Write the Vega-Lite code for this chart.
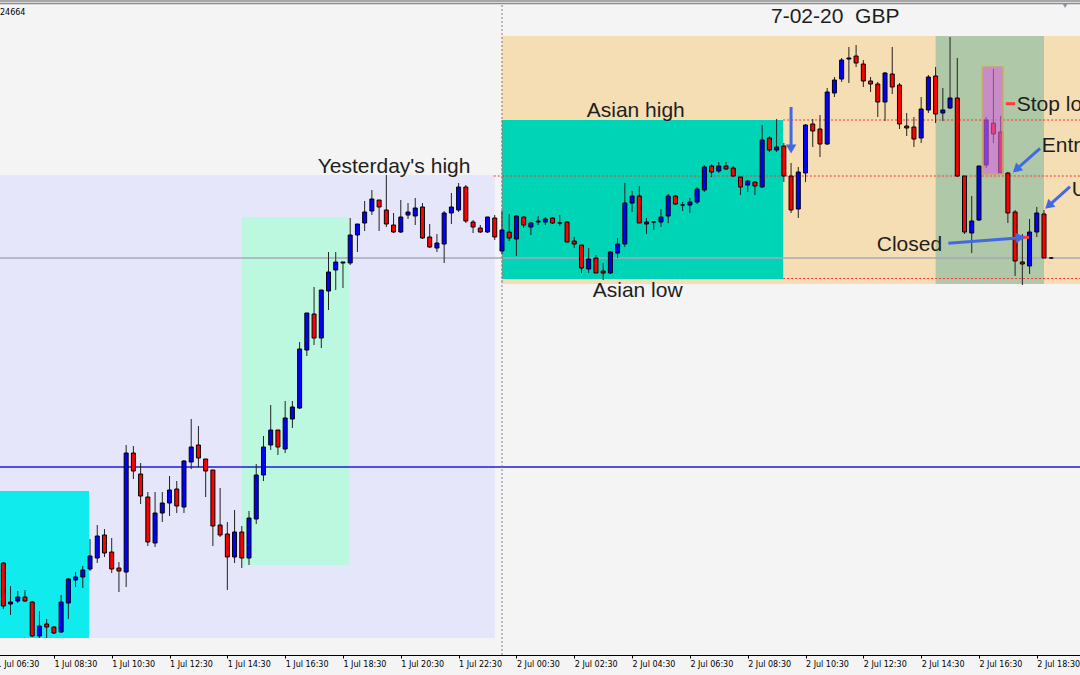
{
"$schema": "https://vega.github.io/schema/vega-lite/v6.json",
"width": 1080, "height": 650,
"autosize": {"type": "none"},
"padding": {"left": 0, "top": 5, "right": 0, "bottom": 20},
"background": "#F4F4F4",
"config": {"view": {"stroke": null}, "axis": {"grid": false}},
"datasets": {
"zones": [
{"zone": "Yesterday range", "start": "2020-07-01T06:00:00", "end": "2020-07-01T23:45:00", "top": 1.25650, "bottom": 1.24724},
{"zone": "Early session", "start": "2020-07-01T06:00:00", "end": "2020-07-01T09:43:00", "top": 1.25018, "bottom": 1.24724},
{"zone": "London move", "start": "2020-07-01T15:00:00", "end": "2020-07-01T18:43:00", "top": 1.25566, "bottom": 1.24870},
{"zone": "Today", "start": "2020-07-02T00:00:00", "end": "2020-07-02T21:00:00", "top": 1.25928, "bottom": 1.25432},
{"zone": "Asian range", "start": "2020-07-02T00:00:00", "end": "2020-07-02T09:43:30", "top": 1.25760, "bottom": 1.25442},
{"zone": "Trade window", "start": "2020-07-02T15:00:00", "end": "2020-07-02T18:45:00", "top": 1.25928, "bottom": 1.25432}
],
"candles": [
{"time":"2020-07-01T06:45:00","open":1.24874,"high":1.24876,"low":1.24782,"close":1.24788},
{"time":"2020-07-01T07:00:00","open":1.24792,"high":1.24828,"low":1.24770,"close":1.24796},
{"time":"2020-07-01T07:15:00","open":1.24798,"high":1.24818,"low":1.24794,"close":1.24806},
{"time":"2020-07-01T07:30:00","open":1.24806,"high":1.24820,"low":1.24796,"close":1.24798},
{"time":"2020-07-01T07:45:00","open":1.24796,"high":1.24798,"low":1.24726,"close":1.24728},
{"time":"2020-07-01T08:00:00","open":1.24728,"high":1.24778,"low":1.24724,"close":1.24748},
{"time":"2020-07-01T08:15:00","open":1.24752,"high":1.24762,"low":1.24724,"close":1.24746},
{"time":"2020-07-01T08:30:00","open":1.24746,"high":1.24748,"low":1.24732,"close":1.24734},
{"time":"2020-07-01T08:45:00","open":1.24736,"high":1.24810,"low":1.24734,"close":1.24796},
{"time":"2020-07-01T09:00:00","open":1.24794,"high":1.24844,"low":1.24762,"close":1.24842},
{"time":"2020-07-01T09:15:00","open":1.24840,"high":1.24856,"low":1.24826,"close":1.24846},
{"time":"2020-07-01T09:30:00","open":1.24846,"high":1.24868,"low":1.24824,"close":1.24860},
{"time":"2020-07-01T09:45:00","open":1.24862,"high":1.24922,"low":1.24858,"close":1.24888},
{"time":"2020-07-01T10:00:00","open":1.24884,"high":1.24950,"low":1.24874,"close":1.24928},
{"time":"2020-07-01T10:15:00","open":1.24930,"high":1.24942,"low":1.24886,"close":1.24894},
{"time":"2020-07-01T10:30:00","open":1.24896,"high":1.24924,"low":1.24854,"close":1.24862},
{"time":"2020-07-01T10:45:00","open":1.24864,"high":1.24876,"low":1.24816,"close":1.24858},
{"time":"2020-07-01T11:00:00","open":1.24856,"high":1.25110,"low":1.24826,"close":1.25094},
{"time":"2020-07-01T11:15:00","open":1.25094,"high":1.25108,"low":1.25042,"close":1.25058},
{"time":"2020-07-01T11:30:00","open":1.25052,"high":1.25074,"low":1.24992,"close":1.25008},
{"time":"2020-07-01T11:45:00","open":1.25006,"high":1.25016,"low":1.24908,"close":1.24916},
{"time":"2020-07-01T12:00:00","open":1.24914,"high":1.25016,"low":1.24906,"close":1.24974},
{"time":"2020-07-01T12:15:00","open":1.24974,"high":1.25016,"low":1.24956,"close":1.24994},
{"time":"2020-07-01T12:30:00","open":1.24994,"high":1.25048,"low":1.24968,"close":1.25020},
{"time":"2020-07-01T12:45:00","open":1.25022,"high":1.25038,"low":1.24974,"close":1.24988},
{"time":"2020-07-01T13:00:00","open":1.24986,"high":1.25080,"low":1.24974,"close":1.25078},
{"time":"2020-07-01T13:15:00","open":1.25076,"high":1.25162,"low":1.25062,"close":1.25106},
{"time":"2020-07-01T13:30:00","open":1.25110,"high":1.25148,"low":1.25066,"close":1.25084},
{"time":"2020-07-01T13:45:00","open":1.25082,"high":1.25082,"low":1.25006,"close":1.25058},
{"time":"2020-07-01T14:00:00","open":1.25060,"high":1.25060,"low":1.24908,"close":1.24948},
{"time":"2020-07-01T14:15:00","open":1.24950,"high":1.25024,"low":1.24926,"close":1.24930},
{"time":"2020-07-01T14:30:00","open":1.24932,"high":1.24956,"low":1.24820,"close":1.24886},
{"time":"2020-07-01T14:45:00","open":1.24886,"high":1.24980,"low":1.24874,"close":1.24936},
{"time":"2020-07-01T15:00:00","open":1.24936,"high":1.24948,"low":1.24864,"close":1.24884},
{"time":"2020-07-01T15:15:00","open":1.24884,"high":1.24978,"low":1.24870,"close":1.24964},
{"time":"2020-07-01T15:30:00","open":1.24962,"high":1.25072,"low":1.24952,"close":1.25050},
{"time":"2020-07-01T15:45:00","open":1.25050,"high":1.25128,"low":1.25038,"close":1.25106},
{"time":"2020-07-01T16:00:00","open":1.25110,"high":1.25190,"low":1.25100,"close":1.25140},
{"time":"2020-07-01T16:15:00","open":1.25140,"high":1.25140,"low":1.25090,"close":1.25106},
{"time":"2020-07-01T16:30:00","open":1.25102,"high":1.25198,"low":1.25094,"close":1.25164},
{"time":"2020-07-01T16:45:00","open":1.25162,"high":1.25198,"low":1.25144,"close":1.25186},
{"time":"2020-07-01T17:00:00","open":1.25184,"high":1.25316,"low":1.25182,"close":1.25302},
{"time":"2020-07-01T17:15:00","open":1.25300,"high":1.25374,"low":1.25288,"close":1.25374},
{"time":"2020-07-01T17:30:00","open":1.25372,"high":1.25426,"low":1.25310,"close":1.25324},
{"time":"2020-07-01T17:45:00","open":1.25324,"high":1.25420,"low":1.25304,"close":1.25420},
{"time":"2020-07-01T18:00:00","open":1.25418,"high":1.25496,"low":1.25380,"close":1.25456},
{"time":"2020-07-01T18:15:00","open":1.25460,"high":1.25496,"low":1.25420,"close":1.25476},
{"time":"2020-07-01T18:30:00","open":1.25474,"high":1.25476,"low":1.25424,"close":1.25476},
{"time":"2020-07-01T18:45:00","open":1.25474,"high":1.25564,"low":1.25470,"close":1.25530},
{"time":"2020-07-01T19:00:00","open":1.25530,"high":1.25552,"low":1.25496,"close":1.25552},
{"time":"2020-07-01T19:15:00","open":1.25554,"high":1.25598,"low":1.25538,"close":1.25576},
{"time":"2020-07-01T19:30:00","open":1.25578,"high":1.25620,"low":1.25570,"close":1.25602},
{"time":"2020-07-01T19:45:00","open":1.25600,"high":1.25600,"low":1.25538,"close":1.25586},
{"time":"2020-07-01T20:00:00","open":1.25580,"high":1.25650,"low":1.25546,"close":1.25552},
{"time":"2020-07-01T20:15:00","open":1.25550,"high":1.25574,"low":1.25534,"close":1.25536},
{"time":"2020-07-01T20:30:00","open":1.25536,"high":1.25600,"low":1.25534,"close":1.25566},
{"time":"2020-07-01T20:45:00","open":1.25570,"high":1.25594,"low":1.25562,"close":1.25576},
{"time":"2020-07-01T21:00:00","open":1.25568,"high":1.25604,"low":1.25550,"close":1.25584},
{"time":"2020-07-01T21:15:00","open":1.25586,"high":1.25594,"low":1.25522,"close":1.25524},
{"time":"2020-07-01T21:30:00","open":1.25526,"high":1.25552,"low":1.25504,"close":1.25506},
{"time":"2020-07-01T21:45:00","open":1.25504,"high":1.25532,"low":1.25496,"close":1.25514},
{"time":"2020-07-01T22:00:00","open":1.25512,"high":1.25578,"low":1.25474,"close":1.25574},
{"time":"2020-07-01T22:15:00","open":1.25574,"high":1.25614,"low":1.25552,"close":1.25586},
{"time":"2020-07-01T22:30:00","open":1.25580,"high":1.25634,"low":1.25576,"close":1.25626},
{"time":"2020-07-01T22:45:00","open":1.25626,"high":1.25630,"low":1.25554,"close":1.25558},
{"time":"2020-07-01T23:00:00","open":1.25556,"high":1.25560,"low":1.25534,"close":1.25546},
{"time":"2020-07-01T23:15:00","open":1.25544,"high":1.25550,"low":1.25534,"close":1.25536},
{"time":"2020-07-01T23:30:00","open":1.25536,"high":1.25566,"low":1.25534,"close":1.25566},
{"time":"2020-07-01T23:45:00","open":1.25564,"high":1.25570,"low":1.25520,"close":1.25526},
{"time":"2020-07-02T00:00:00","open":1.25498,"high":1.25578,"low":1.25492,"close":1.25540},
{"time":"2020-07-02T00:15:00","open":1.25536,"high":1.25572,"low":1.25518,"close":1.25524},
{"time":"2020-07-02T00:30:00","open":1.25522,"high":1.25570,"low":1.25488,"close":1.25568},
{"time":"2020-07-02T00:45:00","open":1.25566,"high":1.25568,"low":1.25544,"close":1.25550},
{"time":"2020-07-02T01:00:00","open":1.25546,"high":1.25556,"low":1.25530,"close":1.25554},
{"time":"2020-07-02T01:15:00","open":1.25556,"high":1.25568,"low":1.25550,"close":1.25558},
{"time":"2020-07-02T01:30:00","open":1.25556,"high":1.25566,"low":1.25550,"close":1.25562},
{"time":"2020-07-02T01:45:00","open":1.25564,"high":1.25566,"low":1.25552,"close":1.25554},
{"time":"2020-07-02T02:00:00","open":1.25554,"high":1.25570,"low":1.25548,"close":1.25554},
{"time":"2020-07-02T02:15:00","open":1.25556,"high":1.25558,"low":1.25516,"close":1.25516},
{"time":"2020-07-02T02:30:00","open":1.25518,"high":1.25526,"low":1.25504,"close":1.25512},
{"time":"2020-07-02T02:45:00","open":1.25510,"high":1.25510,"low":1.25454,"close":1.25464},
{"time":"2020-07-02T03:00:00","open":1.25462,"high":1.25504,"low":1.25454,"close":1.25482},
{"time":"2020-07-02T03:15:00","open":1.25484,"high":1.25490,"low":1.25454,"close":1.25454},
{"time":"2020-07-02T03:30:00","open":1.25458,"high":1.25474,"low":1.25440,"close":1.25454},
{"time":"2020-07-02T03:45:00","open":1.25454,"high":1.25498,"low":1.25452,"close":1.25496},
{"time":"2020-07-02T04:00:00","open":1.25494,"high":1.25524,"low":1.25484,"close":1.25512},
{"time":"2020-07-02T04:15:00","open":1.25512,"high":1.25634,"low":1.25506,"close":1.25594},
{"time":"2020-07-02T04:30:00","open":1.25594,"high":1.25618,"low":1.25576,"close":1.25608},
{"time":"2020-07-02T04:45:00","open":1.25608,"high":1.25628,"low":1.25554,"close":1.25554},
{"time":"2020-07-02T05:00:00","open":1.25552,"high":1.25564,"low":1.25532,"close":1.25556},
{"time":"2020-07-02T05:15:00","open":1.25556,"high":1.25556,"low":1.25540,"close":1.25556},
{"time":"2020-07-02T05:30:00","open":1.25556,"high":1.25582,"low":1.25546,"close":1.25566},
{"time":"2020-07-02T05:45:00","open":1.25568,"high":1.25612,"low":1.25554,"close":1.25608},
{"time":"2020-07-02T06:00:00","open":1.25608,"high":1.25610,"low":1.25590,"close":1.25592},
{"time":"2020-07-02T06:15:00","open":1.25590,"high":1.25596,"low":1.25578,"close":1.25590},
{"time":"2020-07-02T06:30:00","open":1.25590,"high":1.25604,"low":1.25574,"close":1.25596},
{"time":"2020-07-02T06:45:00","open":1.25596,"high":1.25626,"low":1.25592,"close":1.25622},
{"time":"2020-07-02T07:00:00","open":1.25620,"high":1.25670,"low":1.25616,"close":1.25666},
{"time":"2020-07-02T07:15:00","open":1.25668,"high":1.25672,"low":1.25646,"close":1.25656},
{"time":"2020-07-02T07:30:00","open":1.25658,"high":1.25676,"low":1.25654,"close":1.25668},
{"time":"2020-07-02T07:45:00","open":1.25668,"high":1.25676,"low":1.25660,"close":1.25662},
{"time":"2020-07-02T08:00:00","open":1.25664,"high":1.25668,"low":1.25646,"close":1.25648},
{"time":"2020-07-02T08:15:00","open":1.25646,"high":1.25646,"low":1.25610,"close":1.25626},
{"time":"2020-07-02T08:30:00","open":1.25630,"high":1.25640,"low":1.25616,"close":1.25638},
{"time":"2020-07-02T08:45:00","open":1.25636,"high":1.25638,"low":1.25610,"close":1.25628},
{"time":"2020-07-02T09:00:00","open":1.25626,"high":1.25750,"low":1.25624,"close":1.25720},
{"time":"2020-07-02T09:15:00","open":1.25724,"high":1.25728,"low":1.25696,"close":1.25700},
{"time":"2020-07-02T09:30:00","open":1.25700,"high":1.25762,"low":1.25696,"close":1.25706},
{"time":"2020-07-02T09:45:00","open":1.25708,"high":1.25714,"low":1.25636,"close":1.25648},
{"time":"2020-07-02T10:00:00","open":1.25648,"high":1.25674,"low":1.25574,"close":1.25580},
{"time":"2020-07-02T10:15:00","open":1.25582,"high":1.25666,"low":1.25564,"close":1.25656},
{"time":"2020-07-02T10:30:00","open":1.25654,"high":1.25752,"low":1.25636,"close":1.25750},
{"time":"2020-07-02T10:45:00","open":1.25752,"high":1.25762,"low":1.25706,"close":1.25738},
{"time":"2020-07-02T11:00:00","open":1.25742,"high":1.25770,"low":1.25686,"close":1.25712},
{"time":"2020-07-02T11:15:00","open":1.25712,"high":1.25824,"low":1.25710,"close":1.25816},
{"time":"2020-07-02T11:30:00","open":1.25814,"high":1.25846,"low":1.25806,"close":1.25840},
{"time":"2020-07-02T11:45:00","open":1.25842,"high":1.25884,"low":1.25836,"close":1.25880},
{"time":"2020-07-02T12:00:00","open":1.25882,"high":1.25906,"low":1.25834,"close":1.25884},
{"time":"2020-07-02T12:15:00","open":1.25888,"high":1.25910,"low":1.25866,"close":1.25874},
{"time":"2020-07-02T12:30:00","open":1.25872,"high":1.25880,"low":1.25826,"close":1.25838},
{"time":"2020-07-02T12:45:00","open":1.25838,"high":1.25846,"low":1.25816,"close":1.25832},
{"time":"2020-07-02T13:00:00","open":1.25832,"high":1.25836,"low":1.25766,"close":1.25796},
{"time":"2020-07-02T13:15:00","open":1.25796,"high":1.25856,"low":1.25758,"close":1.25854},
{"time":"2020-07-02T13:30:00","open":1.25852,"high":1.25906,"low":1.25812,"close":1.25826},
{"time":"2020-07-02T13:45:00","open":1.25830,"high":1.25834,"low":1.25742,"close":1.25752},
{"time":"2020-07-02T14:00:00","open":1.25748,"high":1.25774,"low":1.25728,"close":1.25744},
{"time":"2020-07-02T14:15:00","open":1.25746,"high":1.25766,"low":1.25706,"close":1.25722},
{"time":"2020-07-02T14:30:00","open":1.25724,"high":1.25806,"low":1.25714,"close":1.25782},
{"time":"2020-07-02T14:45:00","open":1.25780,"high":1.25850,"low":1.25774,"close":1.25846},
{"time":"2020-07-02T15:00:00","open":1.25848,"high":1.25866,"low":1.25754,"close":1.25772},
{"time":"2020-07-02T15:15:00","open":1.25774,"high":1.25824,"low":1.25758,"close":1.25780},
{"time":"2020-07-02T15:30:00","open":1.25784,"high":1.25926,"low":1.25782,"close":1.25804},
{"time":"2020-07-02T15:45:00","open":1.25804,"high":1.25884,"low":1.25646,"close":1.25648},
{"time":"2020-07-02T16:00:00","open":1.25648,"high":1.25648,"low":1.25532,"close":1.25536},
{"time":"2020-07-02T16:15:00","open":1.25534,"high":1.25608,"low":1.25494,"close":1.25558},
{"time":"2020-07-02T16:30:00","open":1.25560,"high":1.25668,"low":1.25558,"close":1.25668},
{"time":"2020-07-02T16:45:00","open":1.25670,"high":1.25766,"low":1.25664,"close":1.25760},
{"time":"2020-07-02T17:00:00","open":1.25754,"high":1.25862,"low":1.25714,"close":1.25732},
{"time":"2020-07-02T17:15:00","open":1.25736,"high":1.25768,"low":1.25652,"close":1.25654},
{"time":"2020-07-02T17:30:00","open":1.25654,"high":1.25656,"low":1.25554,"close":1.25574},
{"time":"2020-07-02T17:45:00","open":1.25576,"high":1.25580,"low":1.25448,"close":1.25478},
{"time":"2020-07-02T18:00:00","open":1.25476,"high":1.25532,"low":1.25430,"close":1.25472},
{"time":"2020-07-02T18:15:00","open":1.25468,"high":1.25562,"low":1.25452,"close":1.25536},
{"time":"2020-07-02T18:30:00","open":1.25536,"high":1.25586,"low":1.25526,"close":1.25574},
{"time":"2020-07-02T18:45:00","open":1.25572,"high":1.25580,"low":1.25484,"close":1.25484},
{"time":"2020-07-02T19:00:00","open":1.25484,"high":1.25486,"low":1.25482,"close":1.25484}
]
},
"layer": [
{
"data": {"name": "zones"},
"mark": {"type": "rect", "clip": true},
"encoding": {
"x": {"field": "start", "type": "temporal",
"scale": {"padding": 0, "range": [-3.93, 1080.15], "domain": [{"year": 2020, "month": 7, "date": 1, "hours": 6, "minutes": 30}, {"year": 2020, "month": 7, "date": 2, "hours": 20, "minutes": 0}]},
"axis": {"title": null, "grid": false, "format": "%-d %b %H:%M",
"values": [
{"year": 2020, "month": 7, "date": 1, "hours": 6, "minutes": 30},
{"year": 2020, "month": 7, "date": 1, "hours": 8, "minutes": 30},
{"year": 2020, "month": 7, "date": 1, "hours": 10, "minutes": 30},
{"year": 2020, "month": 7, "date": 1, "hours": 12, "minutes": 30},
{"year": 2020, "month": 7, "date": 1, "hours": 14, "minutes": 30},
{"year": 2020, "month": 7, "date": 1, "hours": 16, "minutes": 30},
{"year": 2020, "month": 7, "date": 1, "hours": 18, "minutes": 30},
{"year": 2020, "month": 7, "date": 1, "hours": 20, "minutes": 30},
{"year": 2020, "month": 7, "date": 1, "hours": 22, "minutes": 30},
{"year": 2020, "month": 7, "date": 2, "hours": 0, "minutes": 30},
{"year": 2020, "month": 7, "date": 2, "hours": 2, "minutes": 30},
{"year": 2020, "month": 7, "date": 2, "hours": 4, "minutes": 30},
{"year": 2020, "month": 7, "date": 2, "hours": 6, "minutes": 30},
{"year": 2020, "month": 7, "date": 2, "hours": 8, "minutes": 30},
{"year": 2020, "month": 7, "date": 2, "hours": 10, "minutes": 30},
{"year": 2020, "month": 7, "date": 2, "hours": 12, "minutes": 30},
{"year": 2020, "month": 7, "date": 2, "hours": 14, "minutes": 30},
{"year": 2020, "month": 7, "date": 2, "hours": 16, "minutes": 30},
{"year": 2020, "month": 7, "date": 2, "hours": 18, "minutes": 30}],
"labelAlign": "left", "labelBaseline": "top", "labelFont": "DejaVu Sans", "labelFontSize": 8,
"labelColor": "#000000", "labelPadding": 2, "tickSize": 3, "tickColor": "#000000",
"domainColor": "#000000", "domainWidth": 1, "labelOverlap": false, "labelFlush": false, "labelBound": false}},
"x2": {"field": "end"},
"y": {"field": "top", "type": "quantitative", "scale": {"domain": [1.2469, 1.2599], "nice": false, "zero": false}, "axis": null},
"y2": {"field": "bottom"},
"color": {"field": "zone", "type": "nominal", "legend": null,
"scale": {"domain": ["Yesterday range", "Early session", "London move", "Today", "Asian range", "Trade window", "Gray level", "Blue level"],
"range": ["#E6E6FA", "#10ECEE", "#BCF8DF", "#F5DEB3", "#00D4B7", "#AFC8A8", "#A9A9B6", "#1E1ED2"]}}
}
},
{
"data": {"values": [{"edge": "top a", "price": 1.25998}, {"edge": "top b", "price": 1.25993}]},
"mark": {"type": "rule", "clip": false, "color": "#8C8C8C", "strokeWidth": 1.5},
"encoding": {"y": {"field": "price", "type": "quantitative"}}
},
{
"data": {"values": [{"zone": "Gray level", "price": 1.25484}, {"zone": "Blue level", "price": 1.25066}]},
"mark": {"type": "rule", "strokeWidth": 1.5},
"encoding": {
"y": {"field": "price", "type": "quantitative"},
"color": {"field": "zone", "type": "nominal", "legend": null}
}
},
{
"data": {"values": [{"time": "2020-07-02T00:00:00"}]},
"mark": {"type": "rule", "color": "#808080", "strokeDash": [2, 2], "strokeWidth": 1},
"encoding": {"x": {"field": "time", "type": "temporal"}}
},
{
"data": {"values": [{"time": "2020-07-02T00:00:00", "top": 1.2576, "bottom": 1.25432}]},
"mark": {"type": "rule", "color": "#F06060", "strokeDash": [2, 2], "strokeWidth": 1},
"encoding": {"x": {"field": "time", "type": "temporal"}, "y": {"field": "top", "type": "quantitative"}, "y2": {"field": "bottom"}}
},
{
"data": {"values": [
{"start": "2020-07-02T09:43:30", "end": "2020-07-02T21:00:00", "price": 1.25760},
{"start": "2020-07-01T23:43:00", "end": "2020-07-02T21:00:00", "price": 1.25648},
{"start": "2020-07-02T09:43:30", "end": "2020-07-02T21:00:00", "price": 1.25443}]},
"mark": {"type": "rule", "clip": true, "color": "#FF3030", "strokeDash": [2, 2], "strokeWidth": 1.2},
"encoding": {"x": {"field": "start", "type": "temporal"}, "x2": {"field": "end"}, "y": {"field": "price", "type": "quantitative"}}
},
{
"data": {"name": "candles"},
"mark": {"type": "rule", "color": "#222222", "strokeWidth": 1},
"encoding": {"x": {"field": "time", "type": "temporal"}, "y": {"field": "low", "type": "quantitative"}, "y2": {"field": "high"}}
},
{
"data": {"name": "candles"},
"mark": {"type": "bar", "size": 4, "stroke": "#000000", "strokeWidth": 1},
"encoding": {
"x": {"field": "time", "type": "temporal"},
"y": {"field": "open", "type": "quantitative"},
"y2": {"field": "close"},
"fill": {"condition": {"test": "datum.close >= datum.open", "value": "#0000FF"}, "value": "#FF0000"}
}
},
{
"data": {"values": [{"start": "2020-07-02T16:37:30", "end": "2020-07-02T17:19:30", "top": 1.25866, "bottom": 1.25652}]},
"mark": {"type": "rect", "fill": "#D964DD", "fillOpacity": 0.6, "stroke": "#C8A46E", "strokeWidth": 1.5, "strokeOpacity": 1},
"encoding": {"x": {"field": "start", "type": "temporal"}, "x2": {"field": "end"}, "y": {"field": "top", "type": "quantitative"}, "y2": {"field": "bottom"}}
},
{
"data": {"values": [
{"marker": "Stop loss", "start": "2020-07-02T17:25:48", "end": "2020-07-02T17:44:54", "price": 1.257926},
{"marker": "Close", "start": "2020-07-02T18:01:30", "end": "2020-07-02T18:13:54", "price": 1.255254}]},
"mark": {"type": "rule", "color": "#FF3B3B", "strokeWidth": 3},
"encoding": {"x": {"field": "start", "type": "temporal"}, "x2": {"field": "end"}, "y": {"field": "price", "type": "quantitative"}}
},
{
"data": {"values": [
{"arrow": "Signal", "start": "2020-07-02T10:00:00", "startPrice": 1.25786, "end": "2020-07-02T10:00:00", "endPrice": 1.25702},
{"arrow": "Entry", "start": "2020-07-02T18:36:48", "startPrice": 1.257034, "end": "2020-07-02T17:47:24", "endPrice": 1.25661},
{"arrow": "U", "start": "2020-07-02T19:39:00", "startPrice": 1.256266, "end": "2020-07-02T18:54:24", "endPrice": 1.255884},
{"arrow": "Closed", "start": "2020-07-02T15:26:24", "startPrice": 1.255134, "end": "2020-07-02T17:55:54", "endPrice": 1.255246}]},
"mark": {"type": "rule", "color": "#4169E1", "strokeWidth": 3},
"encoding": {"x": {"field": "start", "type": "temporal"}, "x2": {"field": "end"}, "y": {"field": "startPrice", "type": "quantitative"}, "y2": {"field": "endPrice"}}
},
{
"data": {"values": [{"time": "2020-07-02T10:00:00", "price": 1.25702}]},
"mark": {"type": "point", "shape": "triangle-up", "filled": true, "color": "#4169E1", "opacity": 1, "size": 110, "angle": 180},
"encoding": {"x": {"field": "time", "type": "temporal"}, "y": {"field": "price", "type": "quantitative"}}
},
{
"data": {"values": [{"time": "2020-07-02T17:47:24", "price": 1.25661}, {"time": "2020-07-02T18:54:24", "price": 1.255884}]},
"mark": {"type": "point", "shape": "triangle-up", "filled": true, "color": "#4169E1", "opacity": 1, "size": 110, "angle": 228},
"encoding": {"x": {"field": "time", "type": "temporal"}, "y": {"field": "price", "type": "quantitative"}}
},
{
"data": {"values": [{"time": "2020-07-02T17:55:54", "price": 1.255246}]},
"mark": {"type": "point", "shape": "triangle-up", "filled": true, "color": "#4169E1", "opacity": 1, "size": 110, "angle": 85.5},
"encoding": {"x": {"field": "time", "type": "temporal"}, "y": {"field": "price", "type": "quantitative"}}
},
{
"data": {"values": [{"time": "2020-07-02T19:28:42", "price": 1.259886}]},
"mark": {"type": "point", "shape": "triangle-down", "filled": true, "color": "#8496A8", "opacity": 1, "size": 28, "clip": false},
"encoding": {"x": {"field": "time", "type": "temporal"}, "y": {"field": "price", "type": "quantitative"}}
},
{
"data": {"values": [
{"label": "Yesterday's high", "time": "2020-07-01T17:37:36", "price": 1.256534},
{"label": "Asian high", "time": "2020-07-02T02:55:54", "price": 1.257666},
{"label": "Asian low", "time": "2020-07-02T03:08:24", "price": 1.254066},
{"label": "7-02-20\u00a0 GBP", "time": "2020-07-02T09:18:24", "price": 1.259534},
{"label": "Stop loss", "time": "2020-07-02T17:48:24", "price": 1.25778},
{"label": "Entry", "time": "2020-07-02T18:40:18", "price": 1.256966},
{"label": "Update", "time": "2020-07-02T19:42:36", "price": 1.256086},
{"label": "Closed", "time": "2020-07-02T12:57:48", "price": 1.254986}]},
"mark": {"type": "text", "font": "Liberation Sans", "fontSize": 21, "color": "#1E1E1E", "align": "left", "baseline": "alphabetic"},
"encoding": {"x": {"field": "time", "type": "temporal"}, "y": {"field": "price", "type": "quantitative"}, "text": {"field": "label"}}
},
{
"data": {"values": [{"label": "24664", "time": "2020-07-01T06:38:09", "price": 1.2597}]},
"mark": {"type": "text", "font": "DejaVu Sans", "fontSize": 8, "color": "#000000", "align": "left", "baseline": "alphabetic"},
"encoding": {"x": {"field": "time", "type": "temporal"}, "y": {"field": "price", "type": "quantitative"}, "text": {"field": "label"}}
}
]
}
